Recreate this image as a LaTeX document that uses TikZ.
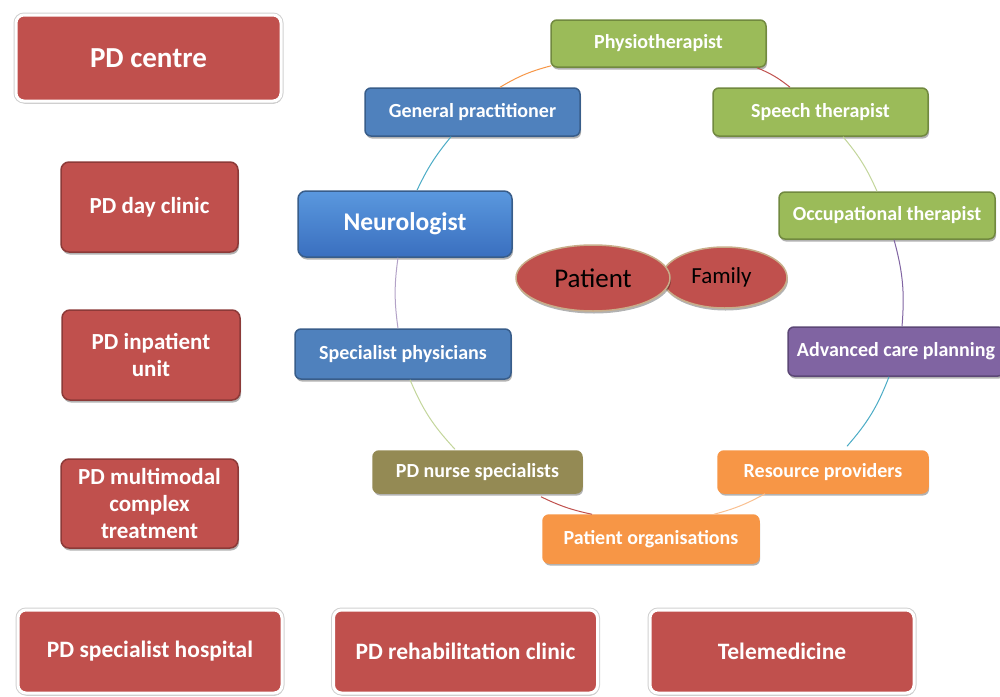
\documentclass[tikz,border=0pt]{standalone}
\usepackage{fontspec}
\setmainfont{Carlito}
\usetikzlibrary{shadows,shapes.geometric}
\definecolor{cred}{HTML}{C0504D}
\definecolor{credd}{HTML}{8C3A38}
\definecolor{cblue}{HTML}{4F81BD}
\definecolor{cblued}{HTML}{385D8A}
\definecolor{cneutop}{HTML}{5A98DE}
\definecolor{cneubot}{HTML}{3A6FBF}
\definecolor{cgreen}{HTML}{9BBB59}
\definecolor{cgreend}{HTML}{71893F}
\definecolor{cpurple}{HTML}{8064A2}
\definecolor{cpurpled}{HTML}{5C4776}
\definecolor{colive}{HTML}{948A54}
\definecolor{corange}{HTML}{F79646}
\definecolor{clorange}{HTML}{FAC090}
\definecolor{ccyan}{HTML}{4BACC6}
\definecolor{clgreen}{HTML}{C3D69B}
\definecolor{clpurple}{HTML}{B3A2C7}
\definecolor{ctan}{HTML}{C8AD8A}
\tikzset{
  base/.style={rounded corners=8pt, inner sep=0pt, align=center, text=white,
    drop shadow={shadow xshift=1pt, shadow yshift=-2.5pt, opacity=0.3, fill=black}},
  redout/.style={base, fill=cred, draw=white, line width=3pt,
    preaction={draw=black!18, line width=5pt},
    font=\bfseries\fontsize{23.5}{28}\selectfont},
  redbox/.style={base, fill=cred, draw=credd, line width=1.5pt,
    font=\bfseries\fontsize{23}{27}\selectfont},
  small/.style={base, line width=1.5pt, font=\bfseries\fontsize{20}{23}\selectfont,
    minimum width=215pt, minimum height=48pt, rounded corners=6pt},
  bluebox/.style={small, fill=cblue, draw=cblued},
  greenbox/.style={small, fill=cgreen, draw=cgreend},
  purplebox/.style={small, fill=cpurple, draw=cpurpled},
  olivebox/.style={small, fill=colive, draw=colive},
  orangebox/.style={small, fill=corange, draw=corange},
  pell/.style={ellipse, fill=cred, draw=ctan, line width=1.5pt, inner sep=0pt,
    drop shadow={shadow xshift=1pt, shadow yshift=-2.5pt, opacity=0.3, fill=black}},
  conn/.style={line width=1pt, bend left=#1},
}
\begin{document}
\begin{tikzpicture}[x=1pt,y=1pt]
\useasboundingbox (0,0) rectangle (1000,-696);
\fill[white] (0,0) rectangle (1000,-696);

% left column and bottom row
\node[redout, minimum width=265pt, minimum height=86pt, font=\bfseries\fontsize{29}{33}\selectfont] (centre) at (148.5,-58) {PD centre};
\node[redbox, minimum width=177pt, minimum height=90pt] (day) at (149.5,-207) {PD day clinic};
\node[redbox, minimum width=178pt, minimum height=90pt] (inpat) at (151,-355) {PD inpatient\\unit};
\node[redbox, minimum width=177pt, minimum height=89pt] (multi) at (149.5,-503.5) {PD multimodal\\complex\\treatment};
\node[redout, minimum width=264pt, minimum height=83pt] (hosp) at (150,-651.5) {PD specialist hospital};
\node[redout, minimum width=264pt, minimum height=83pt] (rehab) at (465.5,-651.5) {PD rehabilitation clinic};
\node[redout, minimum width=264pt, minimum height=83pt] (tele) at (782,-651.5) {Telemedicine};

% circle of carers
\node[greenbox, minimum height=47pt] (physio) at (658.5,-43.5) {Physiotherapist};
\node[bluebox] (gp) at (472.5,-112) {General practitioner};
\node[greenbox] (speech) at (820.5,-112) {Speech therapist};
\node[small, minimum width=214pt, minimum height=66pt, draw=cblued, top color=cneutop, bottom color=cneubot, rounded corners=8pt, font=\bfseries\fontsize{25.5}{29}\selectfont] (neuro) at (405,-224) {Neurologist};
\node[greenbox, minimum width=216pt, minimum height=47pt] (occ) at (887,-215.5) {Occupational therapist};
\node[purplebox, minimum width=216pt, minimum height=49pt] (acp) at (896,-351.5) {Advanced care planning};
\node[bluebox, minimum width=216pt, minimum height=50pt] (spec) at (403,-354) {Specialist physicians};
\node[olivebox, minimum width=209pt, minimum height=42pt] (nurse) at (477.5,-472) {PD nurse specialists};
\node[orangebox, minimum width=210pt, minimum height=42pt] (res) at (823,-472) {Resource providers};
\node[orangebox, minimum width=216pt, minimum height=48pt] (porg) at (651,-539) {Patient organisations};

% connectors
\draw[corange, conn=8] ([xshift=27.5pt]gp.north) to ([xshift=1pt,yshift=2pt]physio.south west);
\draw[cred, conn=8] ([xshift=98.5pt]physio.south) to ([xshift=-30.5pt]speech.north);
\draw[clgreen, conn=8] ([xshift=22.5pt]speech.south) to ([xshift=-10pt]occ.north);
\draw[cpurple, conn=10] ([xshift=7pt]occ.south) to ([xshift=6pt]acp.north);
\draw[ccyan, conn=10] ([xshift=-7pt]acp.south) to ([xshift=24pt,yshift=4pt]res.north);
\draw[clorange, conn=7] ([xshift=-58pt]res.south) to ([xshift=63pt]porg.north);
\draw[cred, conn=7] ([xshift=-59pt]porg.north) to ([xshift=63.5pt,yshift=-3pt]nurse.south);
\draw[clgreen, conn=10] ([xshift=-22.5pt,yshift=1pt]nurse.north) to ([xshift=7pt]spec.south);
\draw[clpurple, conn=8] ([xshift=-5pt]spec.north) to ([xshift=-7pt]neuro.south);
\draw[ccyan, conn=7] ([xshift=12pt]neuro.north) to ([xshift=-21.5pt]gp.south);

% patient and family
\node[pell, minimum width=125pt, minimum height=61pt, font=\fontsize{23}{26}\selectfont] (family) at (724.5,-277.5) {\hspace*{-6pt}Family};
\node[pell, minimum width=154pt, minimum height=66pt, font=\fontsize{27}{30}\selectfont] (patient) at (593,-278) {Patient};
\end{tikzpicture}
\end{document}
